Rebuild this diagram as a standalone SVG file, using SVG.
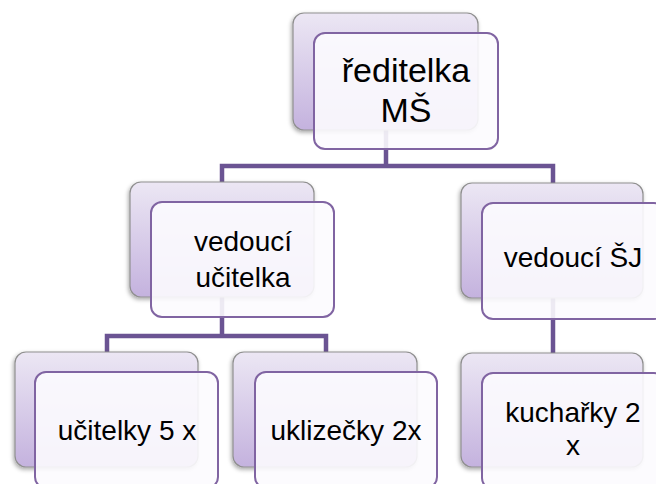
<svg xmlns="http://www.w3.org/2000/svg" width="656" height="484" viewBox="0 0 656 484">
<defs>
<linearGradient id="bg" x1="0" y1="0" x2="0" y2="1">
<stop offset="0" stop-color="#ece7f4"/>
<stop offset="1" stop-color="#c4b2de"/>
</linearGradient>
<filter id="sh" x="-10%" y="-10%" width="125%" height="125%">
<feDropShadow dx="-1" dy="2" stdDeviation="2" flood-color="#000" flood-opacity="0.35"/>
</filter>
<style>
.back{fill:url(#bg);stroke:#8f8f8f;stroke-width:1.2;filter:url(#sh)}
.front{fill:#fcfbfe;fill-opacity:0.9;stroke:#8064a2;stroke-width:2}
.conn{fill:none;stroke:#6b5493;stroke-width:4.5}
.t{font-family:"Liberation Sans",Arial,sans-serif;fill:#000;text-anchor:middle}
.l1{font-size:34px}
.l2{font-size:28px}
</style>
</defs>
<rect width="656" height="484" fill="#fff"/>
<g id="connectors">
<path class="conn" d="M386,130 V166 M222,182 V166 H553 V183"/>
<path class="conn" d="M222,297 V336 M107,352 V336 H326 V352"/>
<path class="conn" d="M553,298 V353"/>
</g>
<g id="n-reditelka">
<rect class="back" x="293" y="13" width="185" height="117" rx="11"/>
<rect class="front" x="314" y="33" width="184" height="116" rx="11"/>
<text class="t l1" x="406" y="82">ředitelka</text>
<text class="t l1" x="406" y="122">MŠ</text>
</g>
<g id="n-vedouci-ucitelka">
<rect class="back" x="130" y="182" width="184" height="115" rx="11"/>
<rect class="front" x="151" y="202" width="183" height="115" rx="11"/>
<text class="t l2" x="243" y="251">vedoucí</text>
<text class="t l2" x="243" y="287">učitelka</text>
</g>
<g id="n-vedouci-sj">
<rect class="back" x="461" y="183" width="182" height="115" rx="11"/>
<rect class="front" x="482" y="203" width="183" height="116" rx="11"/>
<text class="t l2" x="573" y="267">vedoucí ŠJ</text>
</g>
<g id="n-ucitelky">
<rect class="back" x="15" y="352" width="183" height="115" rx="11"/>
<rect class="front" x="35" y="372" width="183" height="116" rx="11"/>
<text class="t l2" x="127" y="440">učitelky 5 x</text>
</g>
<g id="n-uklizecky">
<rect class="back" x="233" y="352" width="184" height="115" rx="11"/>
<rect class="front" x="255" y="372" width="182" height="116" rx="11"/>
<text class="t l2" x="346" y="440">uklizečky 2x</text>
</g>
<g id="n-kucharky">
<rect class="back" x="461" y="353" width="182" height="114" rx="11"/>
<rect class="front" x="482" y="373" width="183" height="116" rx="11"/>
<text class="t l2" x="573" y="422">kuchařky 2</text>
<text class="t l2" x="573" y="455">x</text>
</g>
</svg>
